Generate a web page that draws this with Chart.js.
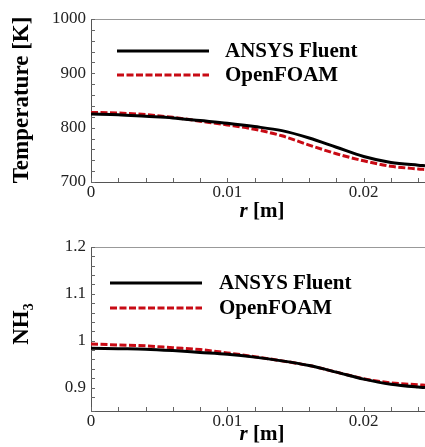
<!DOCTYPE html>
<html>
<head>
<meta charset="utf-8">
<script src="https://cdn.jsdelivr.net/npm/chart.js@4.4.1/dist/chart.umd.min.js"></script>
<style>
  html, body { margin: 0; padding: 0; background: #fff; }
  canvas { display: block; }
</style>
</head>
<body>
<canvas id="tempChart" width="425" height="223"></canvas>
<canvas id="nh3Chart" width="425" height="224"></canvas>
<script>
// radial position r [m]
const radius = [0, 0.002, 0.004, 0.006, 0.008, 0.010, 0.012, 0.014, 0.016, 0.018, 0.020, 0.022, 0.024, 0.0245];

// temperature [K]
const tempFluent = [825, 824, 821, 818, 813, 808, 802, 794.5, 781, 764, 747, 736, 731, 730];
const tempFoam   = [828, 827, 824, 819, 812, 805, 797, 785, 768, 752, 739, 729, 724, 723];

// NH3 (normalised)
const nh3Fluent = [0.984, 0.983, 0.982, 0.979, 0.975, 0.971, 0.965, 0.957, 0.947, 0.933, 0.918, 0.907, 0.901, 0.900];
const nh3Foam   = [0.993, 0.991, 0.989, 0.985, 0.981, 0.974, 0.966, 0.957, 0.947, 0.933, 0.919, 0.910, 0.906, 0.905];

const seriesNames = ["ANSYS Fluent", "OpenFOAM"];

const SERIF = '"Liberation Serif", "Times New Roman", serif';
const RED = "#c80a14";

const pts = (ys) => radius.map((r, i) => ({ x: r, y: ys[i] }));

// inward ticks, top frame line, legend and axis titles
const decor = {
  id: "decor",
  afterDraw(chart, args, o) {
    const ctx = chart.ctx;
    const a = chart.chartArea;
    const xs = chart.scales.x, ys = chart.scales.y;
    ctx.save();

    ctx.strokeStyle = "#999";
    ctx.lineWidth = 1;
    ctx.beginPath();
    ctx.moveTo(a.left, a.top + 0.5);
    ctx.lineTo(a.right, a.top + 0.5);
    ctx.stroke();

    ctx.strokeStyle = "#666";
    ctx.beginPath();
    xs.ticks.forEach((t) => {
      const px = Math.round(xs.getPixelForValue(t.value)) + 0.5;
      ctx.moveTo(px, a.bottom);
      ctx.lineTo(px, a.bottom - 4);
    });
    ys.ticks.forEach((t) => {
      const py = Math.round(ys.getPixelForValue(t.value)) + 0.5;
      ctx.moveTo(a.left, py);
      ctx.lineTo(a.left + 4, py);
    });
    ctx.stroke();

    // legend
    ctx.font = "bold 21px " + SERIF;
    ctx.textBaseline = "middle";
    ctx.textAlign = "left";
    chart.data.datasets.forEach((ds, i) => {
      const y = o.legendY[i];
      ctx.strokeStyle = ds.borderColor;
      ctx.lineWidth = ds.borderWidth;
      ctx.setLineDash(ds.borderDash || []);
      ctx.beginPath();
      ctx.moveTo(o.legendX0, y);
      ctx.lineTo(o.legendX1, y);
      ctx.stroke();
      ctx.setLineDash([]);
      ctx.fillStyle = "#000";
      ctx.fillText(ds.label, o.textX, y + 1);
    });

    // x title: r [m]
    ctx.font = "italic bold 21px " + SERIF;
    const w1 = ctx.measureText("r").width;
    ctx.font = "bold 21px " + SERIF;
    const w2 = ctx.measureText(" [m]").width;
    const x0 = o.xTitleX - (w1 + w2) / 2;
    ctx.font = "italic bold 21px " + SERIF;
    ctx.fillText("r", x0, o.xTitleY);
    ctx.font = "bold 21px " + SERIF;
    ctx.fillText(" [m]", x0 + w1, o.xTitleY);

    // y title, rotated
    ctx.translate(o.yTitleX, o.yTitleY);
    ctx.rotate(-Math.PI / 2);
    ctx.font = "bold 23px " + SERIF;
    const mw = ctx.measureText(o.yTitle).width;
    ctx.font = "bold 14px " + SERIF;
    const sw = o.ySub ? ctx.measureText(o.ySub).width : 0;
    const sx = -(mw + sw) / 2;
    ctx.font = "bold 23px " + SERIF;
    ctx.fillText(o.yTitle, sx, 0);
    if (o.ySub) {
      ctx.font = "bold 14px " + SERIF;
      ctx.fillText(o.ySub, sx + mw, 7);
    }
    ctx.restore();
  },
};

function isMultiple(v, step) {
  const k = Math.round(v / step);
  return Math.abs(v - k * step) < 1e-7;
}

function makeChart(id, fluent, foam, yOpt, deco, axisH) {
  return new Chart(document.getElementById(id), {
    type: "line",
    data: {
      datasets: [
        {
          label: seriesNames[0],
          data: pts(fluent),
          borderColor: "#000",
          borderWidth: 3,
          pointRadius: 0,
          cubicInterpolationMode: "monotone",
        },
        {
          label: seriesNames[1],
          data: pts(foam),
          borderColor: RED,
          borderWidth: 3,
          borderDash: [7, 2.5],
          pointRadius: 0,
          cubicInterpolationMode: "monotone",
        },
      ],
    },
    options: {
      responsive: false,
      animation: false,
      layout: { autoPadding: false, padding: { top: deco.top, left: 0, right: 0, bottom: 0 } },
      plugins: { legend: { display: false }, tooltip: { enabled: false }, decor: deco },
      scales: {
        x: {
          type: "linear",
          min: 0,
          max: 0.0245,
          grid: { display: false, drawTicks: false },
          border: { display: true, color: "#555", width: 1 },
          ticks: {
            stepSize: 0.002,
            autoSkip: false,
            includeBounds: false,
            maxRotation: 0,
            padding: 0,
            color: "#222",
            font: { family: SERIF, size: 17 },
            callback: (v) => (isMultiple(v, 0.01) ? String(Math.round(v * 100) / 100) : ""),
          },
          afterFit: (s) => {
            s.height = axisH;
            s.paddingLeft = 0;
            s.paddingRight = 0;
          },
        },
        y: {
          min: yOpt.min,
          max: yOpt.max,
          grid: { display: false, drawTicks: false },
          border: { display: true, color: "#555", width: 1 },
          ticks: {
            stepSize: yOpt.step,
            autoSkip: false,
            padding: 5,
            color: "#222",
            font: { family: SERIF, size: 17 },
            callback: (v) => (isMultiple(v, yOpt.major) ? String(Math.round(v * 1000) / 1000) : ""),
          },
          afterFit: (s) => {
            s.width = 91;
            s.paddingTop = 0;
            s.paddingBottom = 0;
          },
        },
      },
    },
    plugins: [decor],
  });
}

makeChart(
  "tempChart",
  tempFluent,
  tempFoam,
  { min: 700, max: 1000, step: 20, major: 100 },
  {
    top: 19,
    yTitle: "Temperature [K]",
    ySub: "",
    yTitleX: 22,
    yTitleY: 100,
    legendX0: 117,
    legendX1: 209,
    textX: 225,
    legendY: [51, 75],
    xTitleX: 262,
    xTitleY: 212,
  },
  41
);

makeChart(
  "nh3Chart",
  nh3Fluent,
  nh3Foam,
  { min: 0.85, max: 1.2, step: 0.02, major: 0.1 },
  {
    top: 24,
    yTitle: "NH",
    ySub: "3",
    yTitleX: 22,
    yTitleY: 101,
    legendX0: 110,
    legendX1: 202,
    textX: 219,
    legendY: [60, 85],
    xTitleX: 262,
    xTitleY: 212,
  },
  36
);
</script>
</body>
</html>
